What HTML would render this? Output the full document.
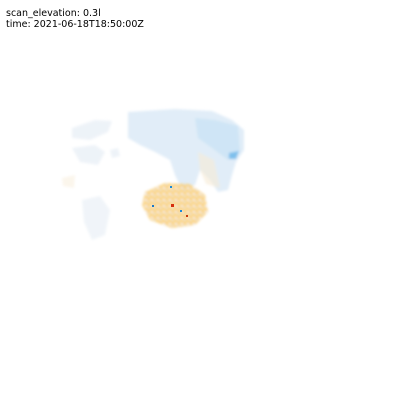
<!DOCTYPE html>
<html><head><meta charset="utf-8"><style>
body{margin:0;width:400px;height:400px;background:#fff;overflow:hidden;font-family:"DejaVu Sans","Liberation Sans",sans-serif}
.t{position:absolute;left:6px;font-size:9.5px;color:#000;line-height:11px}
</style></head><body>
<div class="t" style="top:8px">scan_elevation: 0.3l</div>
<div class="t" style="top:19px">time: 2021-06-18T18:50:00Z</div>
<svg width="400" height="400" style="position:absolute;left:0;top:0">
<defs>
<pattern id="spk" width="6" height="6" patternUnits="userSpaceOnUse">
<rect width="6" height="6" fill="#fbd27a"/>
<rect x="1" y="1" width="2" height="2" fill="#eef2f6"/>
<rect x="4" y="3" width="1" height="2" fill="#cfe6f5"/>
<rect x="3" y="0" width="1" height="1" fill="#f5b030"/>
</pattern>
<filter id="bl"><feGaussianBlur stdDeviation="1.2"/></filter>
</defs>
<g filter="url(#bl)">
<path d="M128,112 L175,109 L212,111 L232,120 L244,130 L244,150 L236,162 L232,175 L228,190 L218,192 L210,180 L200,170 L195,185 L182,190 L175,175 L170,160 L155,152 L140,145 L128,138 Z" fill="#e1edf8"/>
<path d="M195,118 L215,120 L238,126 L240,152 L228,160 L212,148 L198,138 Z" fill="#cfe5f6"/>
<path d="M229,153 L239,151 L236,159 L229,159 Z" fill="#7fc0ec"/>
<path d="M198,152 L214,160 L220,188 L206,184 L200,170 Z" fill="#f6ebd6" opacity="0.6"/>
</g>
<g filter="url(#bl)" opacity="0.75">
<path d="M72,128 L95,120 L112,121 L108,132 L90,140 L72,138 Z" fill="#e8eff6"/>
<path d="M72,148 L95,145 L105,152 L98,165 L80,162 Z" fill="#e8eff6"/>
<path d="M110,150 L118,148 L120,156 L112,158 Z" fill="#e8eff6"/>
<path d="M82,200 L100,196 L110,210 L105,235 L92,240 L84,222 Z" fill="#ebf1f7"/>
<path d="M62,178 L75,175 L74,188 L63,186 Z" fill="#f6ebd6" opacity="0.6"/>
</g>
<g>
<path d="M145,192 L165,183 L190,184 L205,195 L208,212 L195,225 L172,228 L150,220 L142,205 Z" fill="url(#spk)" filter="url(#bl)" opacity="0.85"/>
<rect x="171" y="204" width="3" height="3" fill="#d62e0e"/>
<rect x="152" y="205" width="2" height="2" fill="#1878c8"/>
<rect x="186" y="215" width="2" height="2" fill="#c83a10"/>
<rect x="170" y="186" width="2" height="2" fill="#1a8ad8"/>
<rect x="180" y="210" width="2" height="2" fill="#1a8ad8"/>
</g>
</svg>
</body></html>
